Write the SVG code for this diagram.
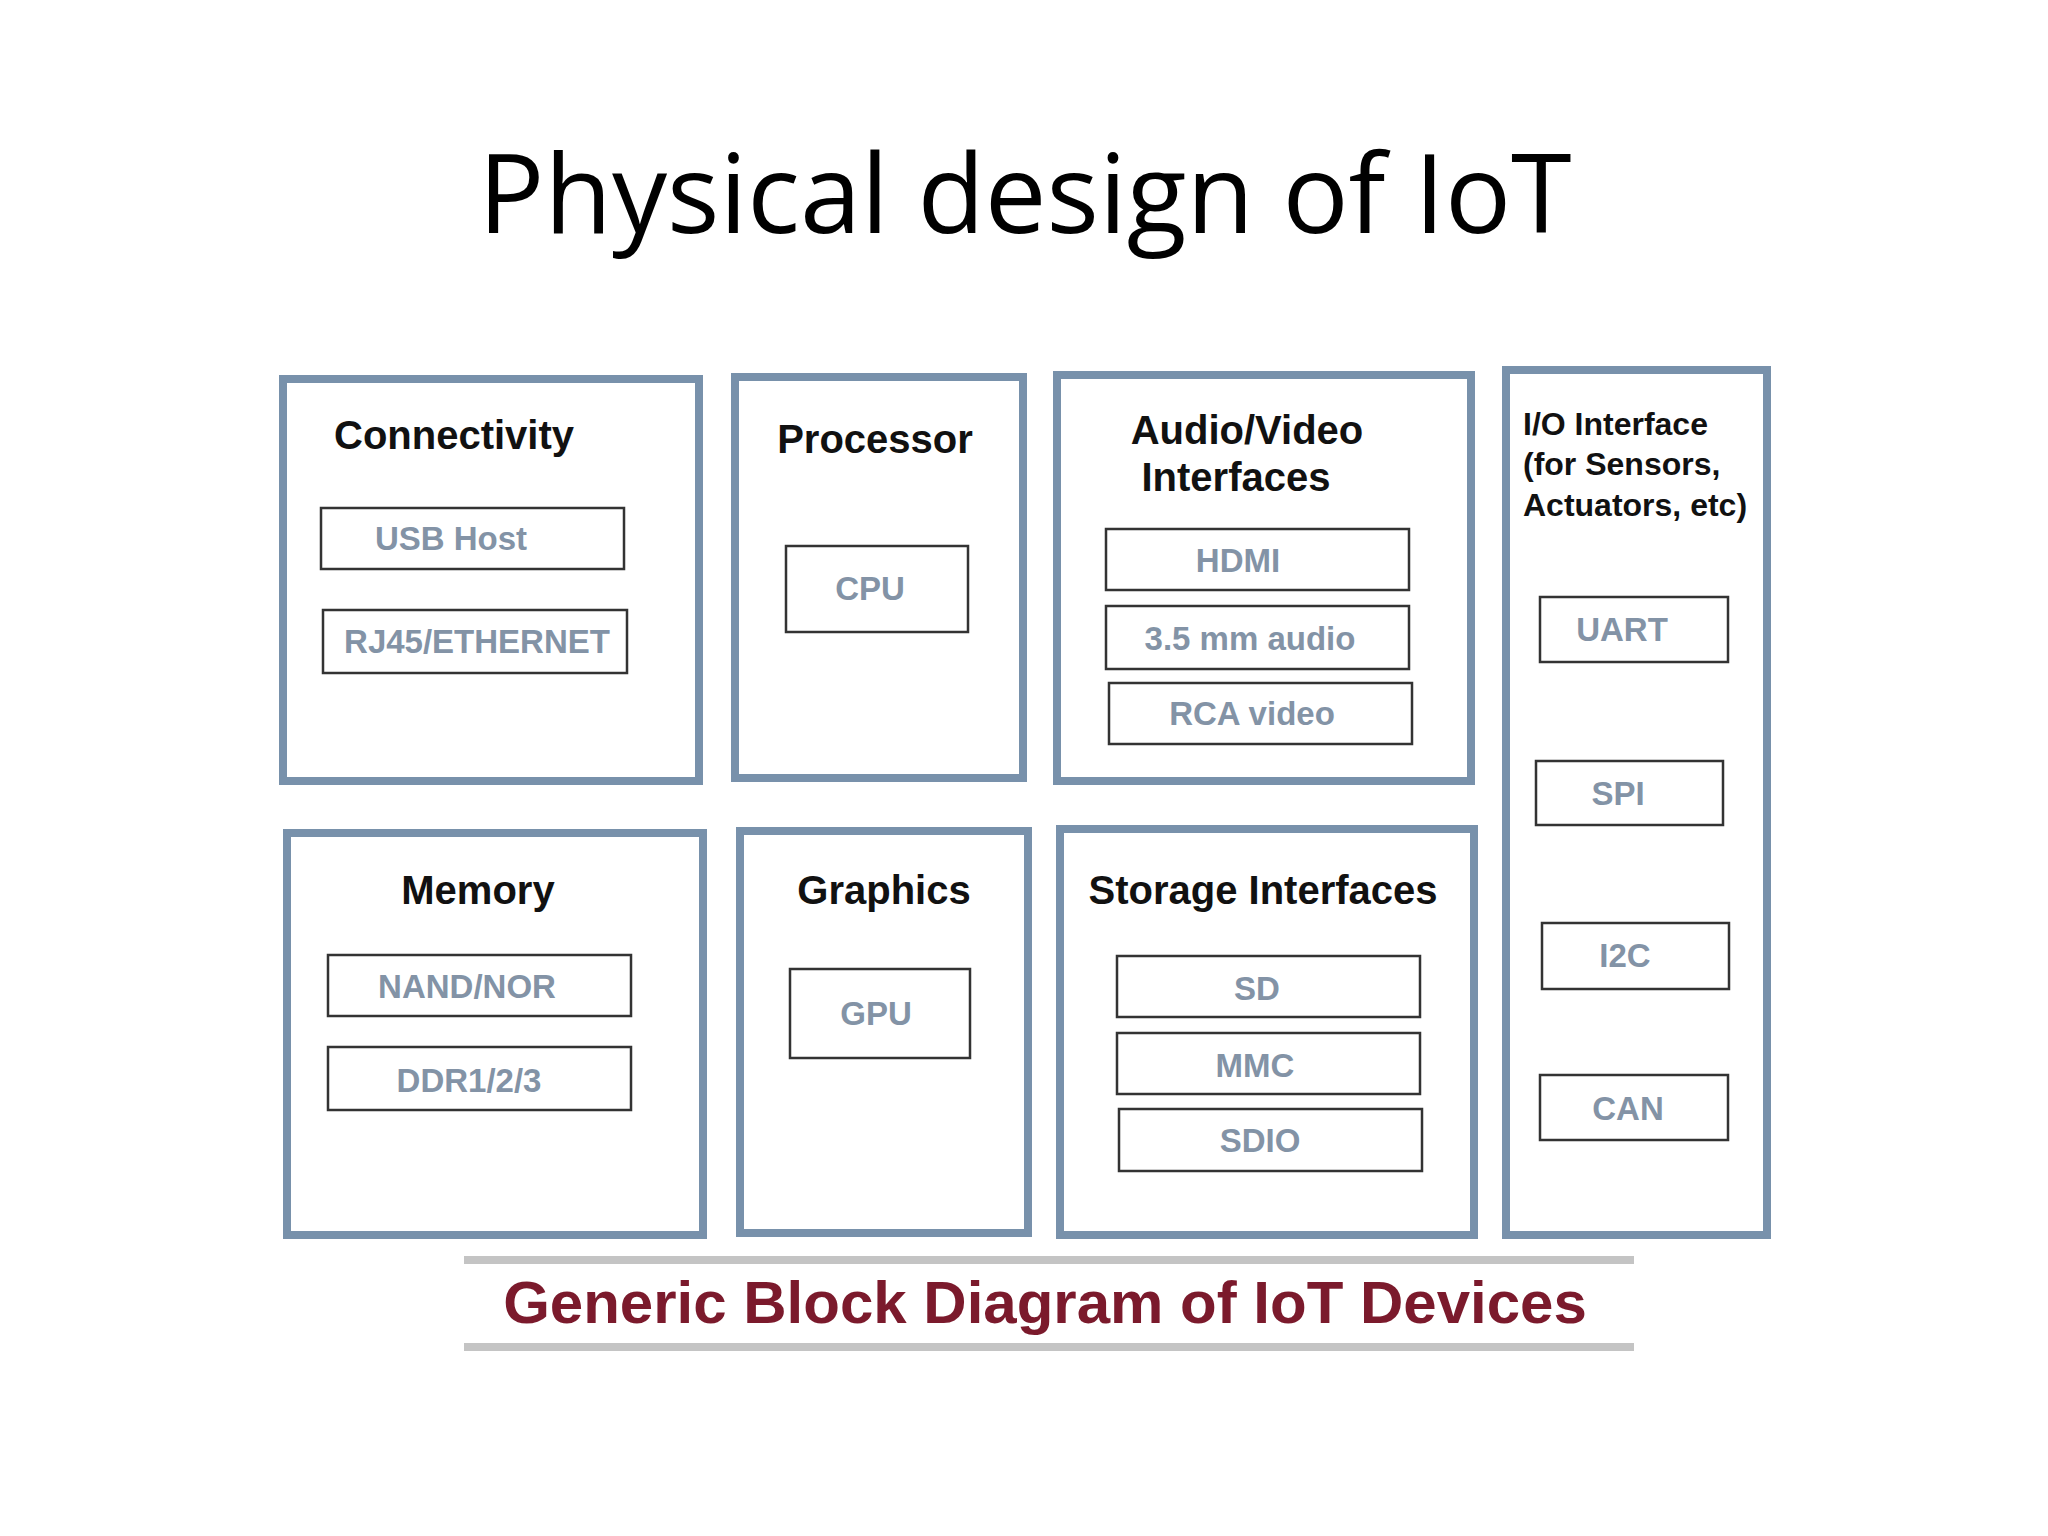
<svg xmlns="http://www.w3.org/2000/svg" width="2048" height="1536" viewBox="0 0 2048 1536">
<style>
.ob{fill:none;stroke:#7891ab;stroke-width:8}
.ib{fill:#fff;stroke:#333;stroke-width:2.5}
.h{font-family:"Liberation Sans",Arial,sans-serif;font-weight:bold;font-size:40px;fill:#111;text-anchor:middle}
.t{font-family:"Liberation Sans",Arial,sans-serif;font-weight:bold;font-size:33px;fill:#8393a6;text-anchor:middle;dominant-baseline:central}
</style>
<rect width="2048" height="1536" fill="#fff"/>
<text x="1025" y="233" font-family="'Open Sans',sans-serif" font-size="110" text-anchor="middle" fill="#000">Physical design of IoT</text>
<g id="connectivity"><rect class="ob" x="283" y="379" width="416" height="402"/><text class="h" x="334" y="449" style="text-anchor:start">Connectivity</text>
<rect class="ib" x="321" y="508" width="303" height="61"/><text class="t" x="451" y="538">USB Host</text>
<rect class="ib" x="323" y="610" width="304" height="63"/><text class="t" x="477" y="641">RJ45/ETHERNET</text></g>
<g id="processor"><rect class="ob" x="735" y="377" width="288" height="401"/><text class="h" x="875" y="453">Processor</text>
<rect class="ib" x="786" y="546" width="182" height="86"/><text class="t" x="870" y="588">CPU</text></g>
<g id="audiovideo"><rect class="ob" x="1057" y="375" width="414" height="406"/><text class="h" x="1247" y="444">Audio/Video</text><text class="h" x="1236" y="491">Interfaces</text>
<rect class="ib" x="1106" y="529" width="303" height="61"/><text class="t" x="1238" y="560">HDMI</text>
<rect class="ib" x="1106" y="606" width="303" height="63"/><text class="t" x="1250" y="638">3.5 mm audio</text>
<rect class="ib" x="1109" y="683" width="303" height="61"/><text class="t" x="1252" y="713">RCA video</text></g>
<g id="io"><rect class="ob" x="1506" y="370" width="261" height="865"/>
<text class="h" x="1523" y="435" style="text-anchor:start;font-size:32px">I/O Interface</text>
<text class="h" x="1523" y="475" style="text-anchor:start;font-size:32px">(for Sensors,</text>
<text class="h" x="1523" y="516" style="text-anchor:start;font-size:32px">Actuators, etc)</text>
<rect class="ib" x="1540" y="597" width="188" height="65"/><text class="t" x="1622" y="629">UART</text>
<rect class="ib" x="1536" y="761" width="187" height="64"/><text class="t" x="1618" y="793">SPI</text>
<rect class="ib" x="1542" y="923" width="187" height="66"/><text class="t" x="1625" y="955">I2C</text>
<rect class="ib" x="1540" y="1075" width="188" height="65"/><text class="t" x="1628" y="1108">CAN</text></g>
<g id="memory"><rect class="ob" x="287" y="833" width="416" height="402"/><text class="h" x="478" y="904">Memory</text>
<rect class="ib" x="328" y="955" width="303" height="61"/><text class="t" x="467" y="986">NAND/NOR</text>
<rect class="ib" x="328" y="1047" width="303" height="63"/><text class="t" x="469" y="1080">DDR1/2/3</text></g>
<g id="graphics"><rect class="ob" x="740" y="831" width="288" height="402"/><text class="h" x="884" y="904">Graphics</text>
<rect class="ib" x="790" y="969" width="180" height="89"/><text class="t" x="876" y="1013">GPU</text></g>
<g id="storage"><rect class="ob" x="1060" y="829" width="414" height="406"/><text class="h" x="1263" y="904">Storage Interfaces</text>
<rect class="ib" x="1117" y="956" width="303" height="61"/><text class="t" x="1257" y="988">SD</text>
<rect class="ib" x="1117" y="1033" width="303" height="61"/><text class="t" x="1255" y="1065">MMC</text>
<rect class="ib" x="1119" y="1109" width="303" height="62"/><text class="t" x="1260" y="1140">SDIO</text></g>
<g id="caption"><rect x="464" y="1256" width="1170" height="8" fill="#c4c4c4"/><rect x="464" y="1343" width="1170" height="8" fill="#c4c4c4"/>
<text x="1045" y="1323" font-family="'Liberation Sans',Arial,sans-serif" font-weight="bold" font-size="60" fill="#7b1a2c" text-anchor="middle">Generic Block Diagram of IoT Devices</text></g>
</svg>
